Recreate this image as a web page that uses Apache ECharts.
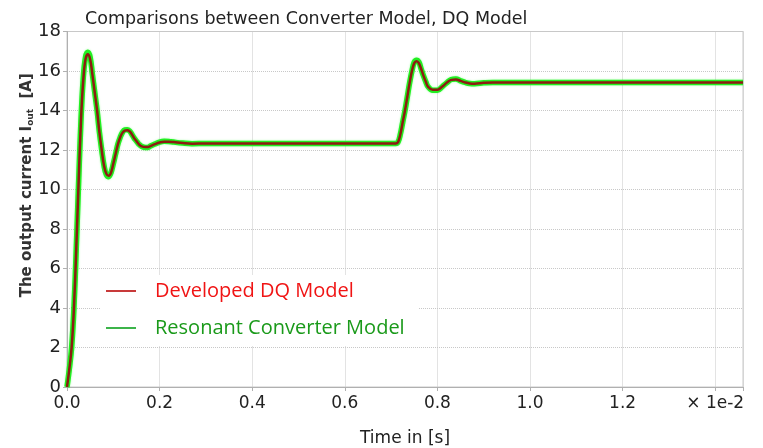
<!DOCTYPE html>
<html>
<head>
<meta charset="utf-8">
<script src="https://cdn.jsdelivr.net/npm/echarts@6/dist/echarts.min.js"></script>
<style>
  html, body { margin: 0; padding: 0; background: #fff; }
  #chart { width: 763px; height: 448px; }
</style>
</head>
<body>
<div id="chart"></div>
<script>
// time in units of 1e-2 s
const timeAxis = [
  0, 0.005, 0.01, 0.015, 0.02, 0.025, 0.03, 0.035, 0.04, 0.045,
  0.05, 0.055, 0.06, 0.065, 0.07, 0.075, 0.08, 0.085, 0.09, 0.095,
  0.1, 0.105, 0.11, 0.115, 0.12, 0.125, 0.13, 0.135, 0.14, 0.145,
  0.15, 0.155, 0.16, 0.17, 0.175, 0.18, 0.19, 0.2, 0.21, 0.22,
  0.23, 0.25, 0.27, 0.3, 0.4, 0.5, 0.6, 0.7, 0.71, 0.715,
  0.72, 0.725, 0.73, 0.735, 0.74, 0.745, 0.75, 0.755, 0.76, 0.765,
  0.77, 0.775, 0.78, 0.79, 0.8, 0.81, 0.82, 0.83, 0.84, 0.85,
  0.86, 0.87, 0.88, 0.9, 0.92, 0.95, 1.0, 1.1, 1.2, 1.3,
  1.4, 1.46
]

const dqCurrent = [
  0, 0.9, 2.0, 4.0, 7.0, 10.3, 13.4, 15.5, 16.6, 16.85,
  16.6, 15.8, 14.9, 14.0, 12.9, 12.0, 11.2, 10.8, 10.7, 10.85,
  11.3, 11.8, 12.3, 12.65, 12.88, 12.98, 13.0, 12.95, 12.8, 12.6,
  12.45, 12.3, 12.2, 12.15, 12.15, 12.2, 12.3, 12.38, 12.42, 12.42,
  12.4, 12.35, 12.32, 12.33, 12.33, 12.33, 12.33, 12.33, 12.33, 12.4,
  12.8, 13.4, 14.0, 14.7, 15.4, 16.0, 16.4, 16.5, 16.4, 16.1,
  15.75, 15.45, 15.2, 15.05, 15.05, 15.2, 15.4, 15.55, 15.57, 15.5,
  15.42, 15.37, 15.36, 15.4, 15.42, 15.42, 15.42, 15.42, 15.42, 15.42,
  15.42, 15.42
]

const converterCurrent = [
  0, 0.9, 2.0, 4.0, 7.0, 10.3, 13.4, 15.6, 16.7, 16.95,
  16.7, 15.8, 14.9, 14.0, 12.9, 12.0, 11.2, 10.75, 10.65, 10.85,
  11.3, 11.8, 12.3, 12.65, 12.9, 13.02, 13.03, 12.97, 12.8, 12.6,
  12.45, 12.3, 12.2, 12.13, 12.13, 12.2, 12.3, 12.4, 12.44, 12.43,
  12.4, 12.35, 12.32, 12.33, 12.33, 12.33, 12.33, 12.33, 12.33, 12.4,
  12.8, 13.4, 14.0, 14.7, 15.4, 16.0, 16.45, 16.55, 16.45, 16.1,
  15.75, 15.45, 15.2, 15.03, 15.03, 15.2, 15.4, 15.57, 15.6, 15.5,
  15.42, 15.37, 15.36, 15.4, 15.42, 15.42, 15.42, 15.42, 15.42, 15.42,
  15.42, 15.42
]

const xTickLabels = { '0': '0.0', '0.2': '0.2', '0.4': '0.4', '0.6': '0.6', '0.8': '0.8', '1': '1.0', '1.2': '1.2', '1.4': '× 1e-2' }
const yTickLabels = ['0', '2', '4', '6', '8', '10', '12', '14', '16', '18']

const font = 'DejaVu Sans'
const chart = echarts.init(document.getElementById('chart'), null, { renderer: 'canvas' })

const pairs = (vals) => timeAxis.map((t, i) => [t, vals[i]])

chart.setOption({
  animation: false,
  title: {
    text: 'Comparisons between Converter Model, DQ Model',
    left: 80,
    top: 5,
    textStyle: { fontFamily: font, fontSize: 17.5, fontWeight: 'normal', color: '#222' }
  },
  grid: {
    left: 67,
    right: 20,
    top: 31.5,
    bottom: 61,
    outerBoundsMode: 'none',
    show: true,
    borderColor: '#c8c8c8',
    borderWidth: 1
  },
  legend: {
    orient: 'vertical',
    left: 100,
    top: 275,
    padding: [6, 14, 8, 6],
    backgroundColor: '#fff',
    itemWidth: 30,
    itemHeight: 2,
    itemGap: 17,
    icon: 'rect',
    textStyle: { fontFamily: 'Open Sans', fontSize: 20, padding: [0, 0, 0, 14] },
    data: [
      { name: 'Developed DQ Model', itemStyle: { color: '#c83a3a' }, textStyle: { color: '#f01414' } },
      { name: 'Resonant Converter Model', itemStyle: { color: '#3cb44a' }, textStyle: { color: '#1a9a1a' } }
    ]
  },
  xAxis: {
    type: 'value',
    min: 0,
    max: 1.46,
    interval: 0.2,
    name: 'Time in [s]',
    nameLocation: 'middle',
    nameGap: 43,
    nameMoveOverlap: false,
    nameTextStyle: { fontFamily: font, fontSize: 17, color: '#222' },
    axisLine: { show: true, lineStyle: { color: '#b0b0b0' } },
    axisTick: { show: true, length: 4, lineStyle: { color: '#b0b0b0' } },
    axisLabel: {
      fontFamily: font, fontSize: 17, color: '#222', margin: 8,
      formatter: (v) => xTickLabels[String(+v.toFixed(2))] || ''
    },
    splitLine: { show: true, lineStyle: { type: 'dotted', color: '#c8c8c8' } }
  },
  yAxis: {
    type: 'value',
    min: 0,
    max: 18,
    interval: 2,
    name: '{a|The output current I}{s|out}{a|  [A]}',
    nameLocation: 'middle',
    nameGap: 32,
    nameMoveOverlap: false,
    nameTextStyle: {
      padding: [0, 0, 0, 48],
      rich: {
        a: { fontFamily: font, fontSize: 15, fontWeight: 'bold', color: '#333' },
        s: { fontFamily: font, fontSize: 9, fontWeight: 'bold', color: '#333', verticalAlign: 'bottom', padding: [6, 0, 0, 0] }
      }
    },
    axisLine: { show: true, lineStyle: { color: '#b0b0b0' } },
    axisTick: { show: true, length: 4, lineStyle: { color: '#b0b0b0' } },
    axisLabel: {
      fontFamily: font, fontSize: 18, color: '#222', margin: 6,
      formatter: (v) => yTickLabels[Math.round(v / 2)] || ''
    },
    splitLine: { show: true, lineStyle: { type: 'dotted', color: '#c8c8c8' } }
  },
  series: [
    {
      name: 'Resonant Converter Model',
      type: 'line',
      data: pairs(converterCurrent),
      smooth: 0.4,
      showSymbol: false,
      z: 2,
      lineStyle: { color: '#22ee22', width: 5.5, shadowColor: 'rgba(60,255,60,0.5)', shadowBlur: 2 }
    },
    {
      name: 'Developed DQ Model',
      type: 'line',
      data: pairs(dqCurrent),
      smooth: 0.4,
      showSymbol: false,
      z: 3,
      lineStyle: { color: '#8e1b12', width: 2.5 }
    }
  ]
})
</script>
</body>
</html>
